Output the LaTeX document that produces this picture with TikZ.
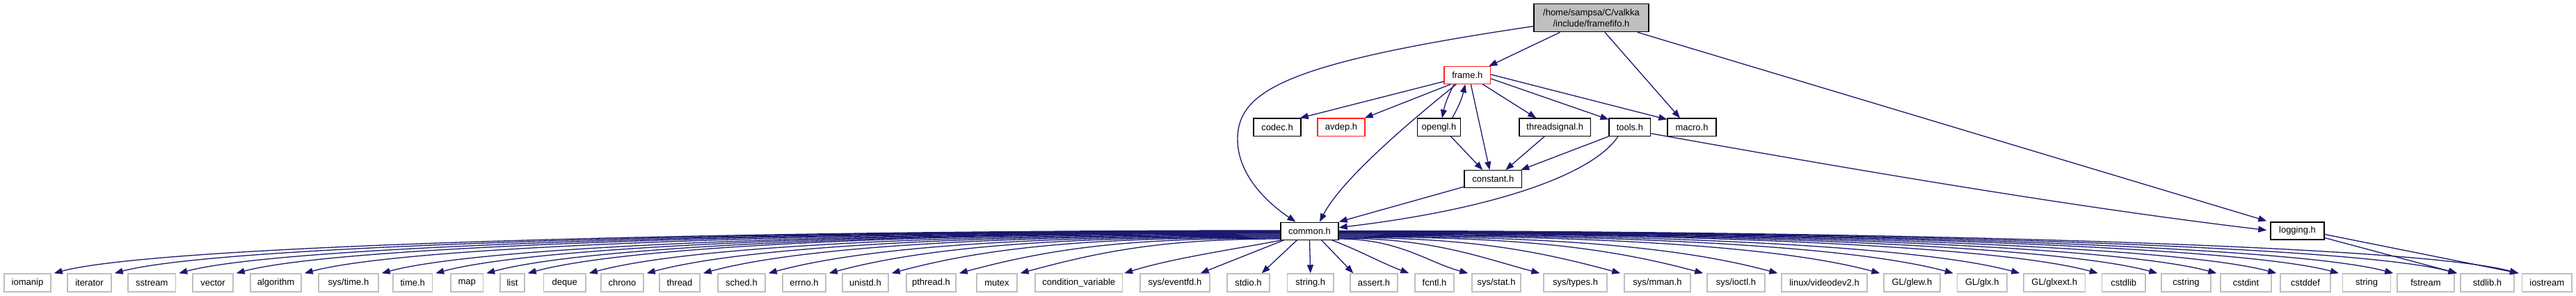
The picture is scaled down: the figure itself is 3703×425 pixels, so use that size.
\documentclass[tikz,border=0pt]{standalone}
\usepackage{fontspec}
\setmainfont{Liberation Sans}
\usetikzlibrary{arrows.meta}
\definecolor{edgec}{HTML}{191970}
\definecolor{sysgray}{HTML}{BFBFBF}
\definecolor{rootfill}{HTML}{BFBFBF}
\definecolor{redb}{HTML}{FF2020}
\begin{document}
\begin{tikzpicture}[x=1pt,y=-1pt,
  box/.style={draw=black,line width=1.4pt,fill=white,inner sep=0pt,minimum height=25pt,font=\fontsize{13pt}{16.5pt}\selectfont},
  redbox/.style={box,draw=redb},
  sysbox/.style={box,draw=sysgray,minimum height=26pt},
  edge/.style={draw=edgec,line width=1.3pt,-{Triangle[length=12pt,width=9pt]}},
]
\useasboundingbox[fill=white] (0,0) rectangle (3703,425);

% upper nodes
\node[box,fill=rootfill,minimum width=165pt,minimum height=40pt,align=center] (root) at (2287.5,25.7) {/home/sampsa/C/valkka\\/include/framefifo.h};
\node[redbox,minimum width=66.5pt,minimum height=24.6pt] (frame) at (2109.3,108) {frame.h};
\node[box,minimum width=68pt] (codec) at (1836,182.7) {codec.h};
\node[redbox,minimum width=68pt] (avdep) at (1928,182.7) {avdep.h};
\node[box,minimum width=62pt] (opengl) at (2068.5,182.7) {opengl.h};
\node[box,minimum width=102.6pt] (threadsignal) at (2235.3,182.7) {threadsignal.h};
\node[box,minimum width=59.7pt] (tools) at (2342.9,182.7) {tools.h};
\node[box,minimum width=70pt] (macro) at (2432,182.7) {macro.h};
\node[box,minimum width=82.5pt] (constant) at (2146.3,257.2) {constant.h};
\node[box,minimum width=83pt] (common) at (1882.5,331.7) {common.h};
\node[box,minimum width=77pt] (logging) at (3302.5,331.5) {logging.h};

% bottom row
\foreach \nm/\lx/\rx/\lab in {
iomanip/6/73/iomanip,
iterator/97/160/iterator,
sstream/184/252.5/sstream,
vector/277/335/vector,
algorithm/360/433/algorithm,
systime/458/544/{sys/time.h},
timeh/565/621.5/time.h,
map/648/694.5/map,
list/719/754/list,
deque/781.5/842/deque,
chrono/864/925/chrono,
thread/948/1006/thread,
sched/1032/1100/sched.h,
errno/1125/1187/errno.h,
unistd/1211/1277/unistd.h,
pthread/1303/1374/pthread.h,
mutex/1404/1462/mutex,
condvar/1488/1613.5/condition\_variable,
eventfd/1639/1739/{sys/eventfd.h},
stdio/1764/1825/stdio.h,
stringh/1850.5/1917/string.h,
assert/1941/2009/assert.h,
fcntl/2034/2090/fcntl.h,
sysstat/2116/2186/{sys/stat.h},
systypes/2219/2310/{sys/types.h},
sysmman/2335/2430/{sys/mman.h},
sysioctl/2454/2537/{sys/ioctl.h},
videodev/2561/2684/{linux/videodev2.h},
glew/2708/2789/{GL/glew.h},
glx/2813.5/2885/{GL/glx.h},
glxext/2909/2997.5/{GL/glxext.h},
cstdlib/3021.5/3084/cstdlib,
cstring/3107/3178/cstring,
cstdint/3192/3265/cstdint,
cstddef/3278/3350/cstddef,
string/3367.6/3436.6/string,
fstream/3446/3528/fstream,
stdlibh/3537/3614/stdlib.h,
iostream/3625.5/3697/iostream}{
  \pgfmathsetmacro\bxw{\rx-\lx}
  \pgfmathsetmacro\bxc{(\lx+\rx)/2}
  \node[sysbox,minimum width=\bxw pt] (\nm) at (\bxc,406) {\lab};
}

% edges from root
\draw[edge] ([xshift=-45pt]root.south) -- ([xshift=-3pt]frame.north east);
\draw[edge] ([xshift=19.5pt]root.south) -- ([xshift=-17pt]macro.north);
\draw[edge] ([xshift=66.5pt]root.south) -- ([xshift=-5pt,yshift=1pt]logging.north west);
\draw[edge] ([yshift=-12pt]root.west) .. controls (1850,90) and (1779,130) .. (1779,200)
  .. controls (1779,250) and (1820,290) .. ([xshift=-20pt]common.north);

% edges from frame.h
\draw[edge] ([yshift=-9pt]frame.west) -- ([xshift=-2pt]codec.north east);
\draw[edge] ([xshift=-24pt]frame.south) -- ([xshift=-1pt]avdep.north east);
\draw[edge] ([xshift=-19pt]frame.south) to[bend right=8] ([xshift=4.5pt]opengl.north);
\draw[edge] ([xshift=19pt]opengl.north) to[bend right=8] ([xshift=-3pt]frame.south);
\draw[edge] ([xshift=-16pt]frame.south) .. controls (2035,168) and (1930,255) .. ([xshift=14.5pt]common.north);
\draw[edge] ([xshift=5pt]frame.south) -- ([xshift=-5pt]constant.north);
\draw[edge] ([xshift=22pt]frame.south) -- ([xshift=-27pt]threadsignal.north);
\draw[edge] ([yshift=-5pt]frame.east) -- ([yshift=-2pt]tools.north west);
\draw[edge] ([yshift=1pt]frame.east) -- ([yshift=-2pt]macro.north west);

% middle edges
\draw[edge] ([xshift=17pt]opengl.south) -- ([xshift=-15pt]constant.north);
\draw[edge] ([xshift=-15pt]threadsignal.south) -- ([xshift=18pt]constant.north);
\draw[edge] (tools.south west) -- ([xshift=-2pt]constant.north east);
\draw[edge] ([xshift=-17pt]tools.south) .. controls (2290,250) and (2150,300) .. ([yshift=5pt]common.east);
\draw[edge] ([yshift=-11pt]constant.west) -- (common.north east);
\draw[edge] ([yshift=-9pt]tools.east) .. controls (2700,250) and (3000,300) .. ([xshift=-5pt,yshift=1pt]logging.west);
\draw[edge] ([yshift=-10pt]logging.east) -- ([xshift=-4pt]stdlibh.north west);
\draw[edge] ([yshift=-5pt]logging.east) -- ([xshift=-4pt]iostream.north west);

% common.h to the left
\foreach \nm/\dy/\dd in {iomanip/0.7/1768, iterator/0.2/1681, sstream/-0.3/1588.5, vector/-0.8/1506,
  algorithm/-1.3/1408, systime/-1.8/1297, timeh/-2.3/1219.5, map/-2.8/1146.5, list/-3.3/1087,
  deque/-4.3/999, chrono/-5.3/916, thread/-6.3/835, sched/-7.3/740, errno/-8.3/654,
  unistd/-9.3/564, pthread/-10.3/467, mutex/-11.3/379}{
  \pgfmathsetmacro\ca{0.45*\dd}
  \pgfmathsetmacro\cb{min(150,0.3*\dd)}
  \pgfmathsetmacro\ch{0.27*\cb}
  \draw[edge] ([yshift=\dy pt]common.west) .. controls +(-\ca,0) and +(\cb,-\ch) .. ([xshift=4pt]\nm.north east);
}
% common.h to the right
\foreach \nm/\dy/\dd in {sysstat/-11.3/192, systypes/-10.3/295, sysmman/-9.3/411, sysioctl/-8.3/530,
  videodev/-7.3/637, glew/-6.3/784, glx/-5.3/889.5, glxext/-4.3/985, cstdlib/-3.3/1097.5,
  cstring/-2.8/1183, cstdint/-2.3/1268, cstddef/-1.8/1354, string/-1.3/1443.6,
  fstream/-0.8/1522, stdlibh/-0.3/1613, iostream/0.2/1701.5}{
  \pgfmathsetmacro\ca{0.45*\dd}
  \pgfmathsetmacro\cb{min(150,0.3*\dd)}
  \pgfmathsetmacro\ch{0.27*\cb}
  \draw[edge] ([yshift=\dy pt]common.east) .. controls +(\ca,0) and +(-\cb,-\ch) .. ([xshift=-5pt]\nm.north west);
}
% common.h straight down
\draw[edge] ([xshift=1pt]common.south west) .. controls +(-60,12) and +(70,-22) .. ([xshift=2pt]condvar.north east);
\draw[edge] ([xshift=5pt]common.south west) -- ([xshift=-14pt]eventfd.north east);
\draw[edge] ([xshift=24pt]common.south west) -- ([xshift=-12pt]stdio.north east);
\draw[edge] (common.south) -- (stringh.north);
\draw[edge] ([xshift=-25pt]common.south east) -- ([xshift=5pt]assert.north west);
\draw[edge] ([xshift=-10pt]common.south east) .. controls +(40,15) and +(-40,-15) .. ([xshift=-8pt]fcntl.north west);
\end{tikzpicture}
\end{document}
